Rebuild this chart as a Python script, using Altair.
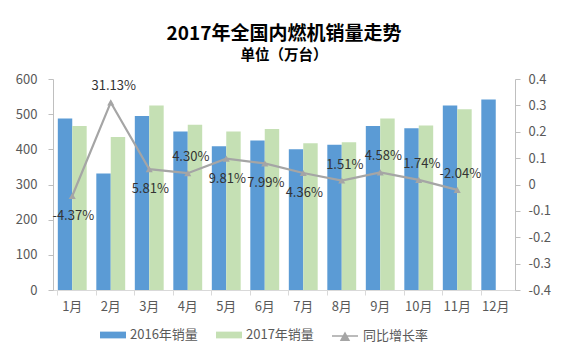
import altair as alt
import pandas as pd

months = ["1月", "2月", "3月", "4月", "5月", "6月", "7月", "8月", "9月", "10月", "11月", "12月"]
series_names = ["2016年销量", "2017年销量", "同比增长率"]
sales_2016 = [488, 331, 495, 451, 409, 425, 400, 413, 466, 460, 525, 542]
sales_2017 = [466, 435, 525, 470, 451, 458, 417, 420, 488, 468, 514, None]
growth = [-0.0437, 0.3113, 0.0581, 0.0430, 0.0981, 0.0799, 0.0436, 0.0151, 0.0458, 0.0174, -0.0204, None]
label_side = ["below", "above", "below", "above", "below", "below", "below", "above", "above", "above", "above", None]
left_ticks = [0, 100, 200, 300, 400, 500, 600]
right_ticks = [-0.4, -0.3, -0.2, -0.1, 0, 0.1, 0.2, 0.3, 0.4]

BLUE = "#5B9BD5"
GREEN = "#C5E0B4"
GRAY = "#A5A5A5"
FONT = "Noto Sans CJK SC"
TXT = "#595959"

rows = []
for m, a, b in zip(months, sales_2016, sales_2017):
    if a is not None:
        rows.append({"month": m, "series": series_names[0], "value": a})
    if b is not None:
        rows.append({"month": m, "series": series_names[1], "value": b})
bar_df = pd.DataFrame(rows)

lrows = []
for m, g, s in zip(months, growth, label_side):
    if g is None:
        continue
    lrows.append({"month": m, "growth": g, "label": f"{g*100:.2f}%", "side": s,
                  "series": series_names[2]})
line_df = pd.DataFrame(lrows)

x_enc = alt.X(
    "month:N", sort=months,
    scale=alt.Scale(domain=months, paddingInner=0.25, paddingOuter=0.125),
    axis=alt.Axis(title=None, labelAngle=0, bandPosition=0,
                  domainColor="#D9D9D9", tickColor="#D9D9D9", tickSize=5,
                  labelPadding=5, labelFontSize=13, labelColor=TXT, labelFont=FONT,
                  grid=False),
)

bars = alt.Chart(bar_df).mark_bar().encode(
    x=x_enc,
    xOffset=alt.XOffset("series:N", sort=series_names[:2],
                        scale=alt.Scale(domain=series_names[:2], paddingInner=0, paddingOuter=0)),
    y=alt.Y("value:Q", scale=alt.Scale(domain=[0, 600], nice=False),
            axis=alt.Axis(title=None, values=left_ticks, domainColor="#BFBFBF",
                          tickColor="#BFBFBF", tickSize=5, labelPadding=11,
                          labelFontSize=13, labelColor=TXT, labelFont=FONT, grid=False)),
    color=alt.Color("series:N",
                    scale=alt.Scale(domain=series_names[:2], range=[BLUE, GREEN]),
                    legend=alt.Legend(
                        title=None, orient="none", direction="horizontal",
                        legendX=47, legendY=243, columnPadding=18, labelOffset=4,
                        symbolType="M-1,-0.26H1V0.26H-1Z", symbolSize=676,
                        symbolStrokeWidth=0, symbolOpacity=1,
                        labelFontSize=13, labelColor=TXT, labelFont=FONT)),
)

y_right = alt.Y("growth:Q", scale=alt.Scale(domain=[-0.4, 0.4], nice=False),
                axis=alt.Axis(title=None, orient="right", values=right_ticks,
                              labelExpr="toString(round(datum.value*10)/10)",
                              domainColor="#BFBFBF", tickColor="#BFBFBF", tickSize=5,
                              labelPadding=8, labelFontSize=13, labelColor=TXT,
                              labelFont=FONT, grid=False))

line_base = alt.Chart(line_df).encode(x=alt.X("month:N", sort=months), y=y_right)
line = line_base.mark_line(color=GRAY, strokeWidth=2.2)
pts = line_base.mark_point(shape="triangle-up", filled=True, size=50, opacity=1).encode(
    color=alt.Color("series:N", scale=alt.Scale(domain=series_names[2:], range=[GRAY]),
                    legend=alt.Legend(
                        title=None, orient="none", direction="horizontal",
                        legendX=278, legendY=243, labelOffset=4,
                        symbolType="M-1,0H1M-0.3,0.32L0,-0.22L0.3,0.32Z", symbolSize=676,
                        symbolStrokeColor=GRAY, symbolStrokeWidth=1.5, symbolOpacity=1,
                        symbolFillColor=GRAY,
                        labelFontSize=13, labelColor=TXT, labelFont=FONT)))
txt_above = line_base.transform_filter("datum.side == 'above'").mark_text(
    dy=-16, dx=3, fontSize=13, font=FONT, color="#333333").encode(text="label:N")
txt_below = line_base.transform_filter("datum.side == 'below'").mark_text(
    dy=20, dx=1, fontSize=13, font=FONT, color="#333333").encode(text="label:N")

line_layer = alt.layer(line, pts, txt_above, txt_below)

chart = alt.layer(bars, line_layer).resolve_scale(y="independent", color="independent").properties(
    width=462, height=211,
    padding={"left": 45, "top": 71, "right": 41, "bottom": 63},
    autosize=alt.AutoSizeParams(type="none"),
    title=alt.TitleParams(
        text="2017年全国内燃机销量走势", subtitle="单位（万台）",
        font=FONT, fontSize=19, fontWeight="bold", color="#000000",
        subtitleFont=FONT, subtitleFontSize=14.5, subtitleFontWeight="bold",
        subtitleColor="#000000", subtitlePadding=5, anchor="middle", offset=11,
    ),
).configure_view(stroke=None)

chart.save("out.html", embed_options={"renderer": "svg", "actions": False})
